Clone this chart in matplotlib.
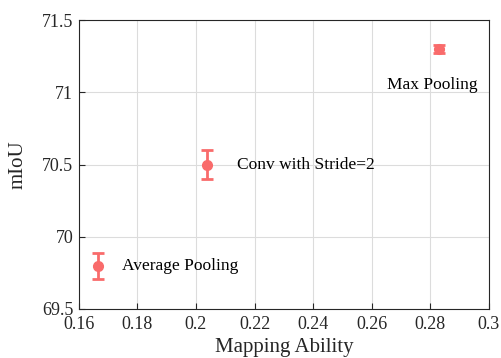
import numpy as np
import matplotlib.pyplot as plt

plt.rcParams['font.family'] = ['Liberation Serif', 'DejaVu Serif']

names = ["Average Pooling", "Conv with Stride=2", "Max Pooling"]
ability = [0.1665, 0.2037, 0.283]
miou = [69.80, 70.50, 71.30]
err = [0.09, 0.10, 0.03]

fig = plt.figure(figsize=(5.02, 3.58), dpi=100)
ax = fig.add_axes([0.157, 0.137, 0.817, 0.807])

ax.errorbar(ability, miou, yerr=err, fmt="o", ms=7, color="#f96b6b",
            ecolor="#f96b6b", elinewidth=2, capsize=4, capthick=2)

ax.text(ability[0] + 0.0082, miou[0], names[0], va="center", ha="left", fontsize=12.5)
ax.text(ability[1] + 0.0102, miou[1], names[1], va="center", ha="left", fontsize=12.5)
ax.text(ability[2] + 0.0132, miou[2] - 0.25, names[2], va="center", ha="right", fontsize=12.5)

ax.set_xlim(0.16, 0.3)
ax.set_ylim(69.5, 71.5)
ax.set_xticks(np.arange(0.16, 0.301, 0.02))
ax.set_xticklabels(["0.16", "0.18", "0.2", "0.22", "0.24", "0.26", "0.28", "0.3"])
ax.set_yticks([69.5, 70, 70.5, 71, 71.5])
ax.set_yticklabels(["69.5", "70", "70.5", "71", "71.5"])
ax.grid(True, color="#dcdcdc", lw=0.8)
ax.set_axisbelow(True)
ax.tick_params(direction="in", labelsize=13, length=4, color="#262626", labelcolor="#262626", pad=4)
ax.tick_params(axis="x", pad=5)
for s in ax.spines.values():
    s.set_color("#262626")
    s.set_linewidth(0.8)
ax.set_xlabel("Mapping Ability", fontsize=15, color="#262626", labelpad=4)
ax.set_ylabel("mIoU", fontsize=15, color="#262626", labelpad=10)

fig.savefig("out.png", dpi=100)
